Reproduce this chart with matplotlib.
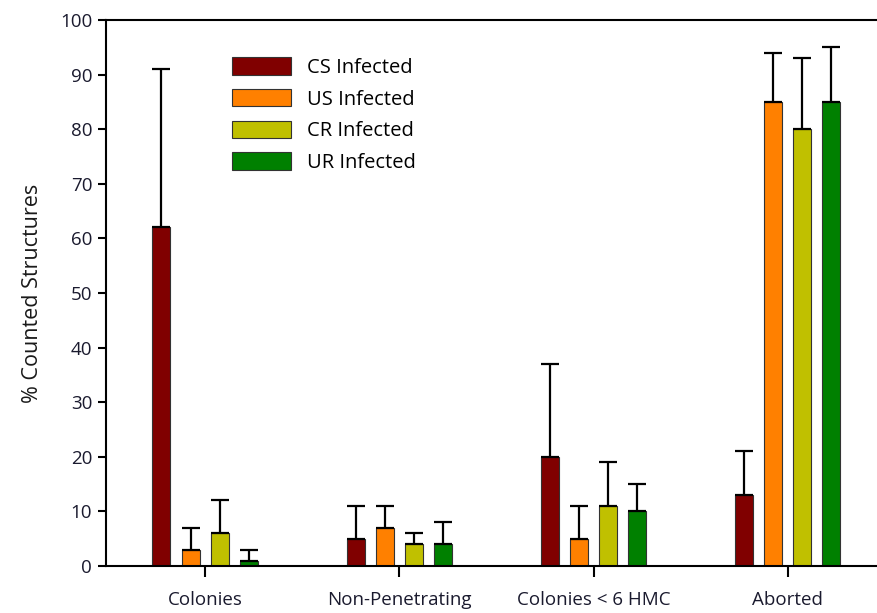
import numpy as np
from matplotlib import pyplot as plt

plt.rcParams['font.family'] = ['Open Sans', 'DejaVu Sans']

categories = ["Colonies", "Non-Penetrating", "Colonies < 6 HMC", "Aborted"]
series = ["CS Infected", "US Infected", "CR Infected", "UR Infected"]
colors = ["#800000", "#FF8000", "#C0C000", "#008000"]

cs_vals = [62, 5, 20, 13]
us_vals = [3, 7, 5, 85]
cr_vals = [6, 4, 11, 80]
ur_vals = [1, 4, 10, 85]

# upper error only (mean + err = top of whisker)
cs_err = [29, 6, 17, 8]
us_err = [4, 4, 6, 9]
cr_err = [6, 2, 8, 13]
ur_err = [2, 4, 5, 10]

values = [cs_vals, us_vals, cr_vals, ur_vals]
errors = [cs_err, us_err, cr_err, ur_err]

fig = plt.figure(figsize=(8.77, 6.13), dpi=100)
ax = fig.add_axes([0.121, 0.0767, 0.879, 0.8907])

x = np.arange(len(categories))
width = 0.093
step = 0.15
for i, (vals, errs, lab, col) in enumerate(zip(values, errors, series, colors)):
    pos = x + (i - 1.5) * step
    ax.bar(pos, vals, width, color=col, edgecolor='#333333', linewidth=0.8,
           label=lab, zorder=2)
    ax.errorbar(pos, vals, yerr=[np.zeros(len(errs)), errs], fmt='none',
                ecolor='black', elinewidth=1.6, capsize=6.5, capthick=1.6,
                zorder=3)

ax.set_xlim(-0.51, 3.46)
ax.set_ylim(0, 100)
ax.set_yticks(range(0, 101, 10))
ax.set_xticks(x)
ax.set_xticklabels(categories)
ax.tick_params(axis='y', direction='out', length=6, width=1.5,
               labelsize=13.5, labelcolor='#1a1a2e', pad=4)
ax.tick_params(axis='x', direction='out', length=8, width=1.5,
               labelsize=13.5, labelcolor='#1a1a2e', pad=10)
for s in ['left', 'bottom', 'top']:
    ax.spines[s].set_linewidth(1.5)
ax.spines['right'].set_visible(False)

ax.set_ylabel("% Counted Structures", fontsize=15.5, color='#1a1a1a', labelpad=12)

ax.legend(loc='upper left', bbox_to_anchor=(0.14, 0.965), frameon=False,
          fontsize=14.5, handlelength=2.9, handleheight=0.95,
          labelspacing=0.55, handletextpad=0.8)

fig.savefig("out.png", dpi=100)
